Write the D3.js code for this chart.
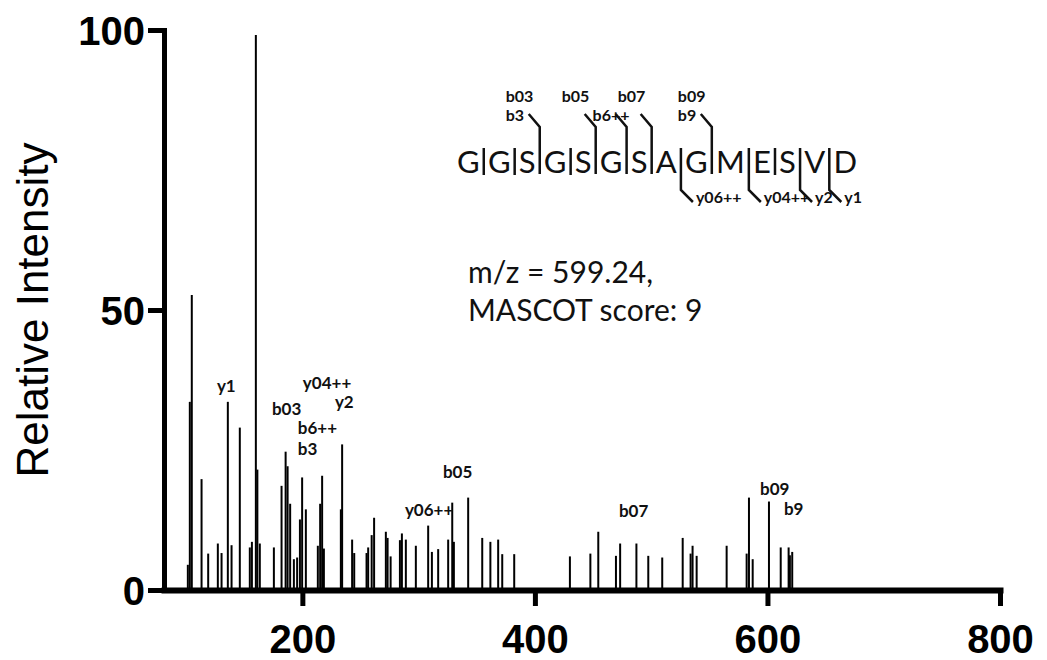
<!DOCTYPE html>
<html>
<head>
<meta charset="utf-8">
<script src="https://cdn.jsdelivr.net/npm/d3@7"></script>
<style>
  body { margin: 0; background: #fff; }
</style>
</head>
<body>
<div class="chart"></div>
<script>
// peak list (m/z, relative intensity)
var mz = [101.5,103.2,104.9,113.3,119.0,127.3,130.5,135.9,139.1,146.2,154.8,156.6,160.0,161.3,163.4,
  175.5,182.1,185.6,187.3,189.5,192.7,195.5,197.9,199.8,203.0,213.3,215.3,217.0,218.5,233.1,234.2,
  242.8,244.6,255.2,256.6,259.6,261.7,271.8,273.3,275.9,283.9,285.6,289.0,297.6,308.2,311.4,316.8,
  325.4,328.9,330.3,342.6,354.7,361.7,368.4,371.9,382.2,430.1,447.7,454.5,469.7,473.3,487.3,497.5,
  509.5,527.1,533.9,535.6,539.1,564.9,582.1,584.1,587.3,601.3,611.4,618.2,619.3,621.3];
var intensity = [4.5,33.6,52.7,19.8,6.5,8.3,6.6,33.6,8.0,29.0,7.6,8.6,99.1,21.5,8.3,
  7.6,18.6,24.7,22.1,15.4,5.5,5.8,12.6,20.1,14.4,7.9,15.4,20.4,7.4,14.4,26.0,
  9.0,6.6,6.6,7.6,9.8,12.9,10.4,9.3,6.0,8.9,10.1,9.0,7.9,11.5,6.8,7.3,
  9.0,15.6,8.6,16.5,9.3,8.6,9.0,6.4,6.4,6.0,6.5,10.4,6.1,8.3,8.3,6.1,
  5.8,9.3,6.5,7.9,6.1,7.9,6.5,16.5,5.5,15.8,7.6,7.6,6.2,6.8];

// fragment annotations placed in data units
var ionNames = ["y1","y04++","y2","b03","b6++","b3","b05","y06++","b07","b09","b9"];
var ionMz    = [126.5,200.4,228.0,173.8,196.1,196.1,320.9,288.2,472.3,593.6,614.2];
var ionY     = [35.4,35.9,32.5,31.25,27.9,24.1,20.0,13.2,13.0,17.0,13.4];

var xTicks = [200, 400, 600, 800];
var yTicks = [0, 50, 100];

// peptide and its cleavage sites
var residues = ["G","G","S","G","S","G","S","A","G","M","E","S","V","D"];
var cutType  = ["|","|","b","|","b","b","b","y","b","y","|","y","y"];
var cutLabels = [[],[],["b03","b3"],[],["b05"],["","b6++"],["b07"],["y06++"],["b09","b9"],["y04++"],[],["y2"],["y1"]];

var infoLines = ["m/z = 599.24,", "MASCOT score: 9"];

var width = 1047, height = 660;
var svg = d3.select(".chart").append("svg")
  .attr("width", width)
  .attr("height", height);

var x = d3.scaleLinear().domain([81, 800]).range([164, 1000]);
var y = d3.scaleLinear().domain([0, 100]).range([590, 30]);

// peaks
svg.append("g")
  .selectAll("line")
  .data(mz)
  .enter()
  .append("line")
  .attr("x1", d => x(d))
  .attr("x2", d => x(d))
  .attr("y1", y(0))
  .attr("y2", (d, i) => y(intensity[i]))
  .attr("stroke", "#000")
  .attr("stroke-width", 2);

// axes
var yAxis = svg.append("g")
  .attr("transform", `translate(${x(81)},0)`)
  .call(d3.axisLeft(y).tickValues(yTicks).tickSize(16).tickSizeOuter(0));
yAxis.select(".domain").attr("stroke-width", 5).attr("stroke-linecap", "square");
yAxis.selectAll(".tick line").attr("stroke-width", 5);
yAxis.selectAll("text")
  .attr("x", -19)
  .attr("dy", "0.36em")
  .style("font", "bold 40px 'Liberation Sans', Arial, sans-serif")
  .attr("fill", "#000");

var xAxis = svg.append("g")
  .attr("transform", `translate(0,${y(0)})`)
  .call(d3.axisBottom(x).tickValues(xTicks).tickSize(16).tickSizeOuter(0));
xAxis.select(".domain").attr("stroke-width", 6).attr("stroke-linecap", "square");
xAxis.selectAll(".tick line").attr("stroke-width", 5);
xAxis.selectAll("text")
  .attr("y", 63)
  .attr("dy", null)
  .style("font", "bold 40px 'Liberation Sans', Arial, sans-serif")
  .attr("fill", "#000");

svg.append("text")
  .attr("transform", "rotate(-90)")
  .attr("x", -y(50))
  .attr("y", 48)
  .attr("text-anchor", "middle")
  .style("font", "44px 'Liberation Sans', Arial, sans-serif")
  .text("Relative Intensity");

// ion labels on the peaks
svg.append("g")
  .selectAll("text")
  .data(ionNames)
  .enter()
  .append("text")
  .attr("x", (d, i) => x(ionMz[i]))
  .attr("y", (d, i) => y(ionY[i]))
  .style("font", "bold 17px Lato, sans-serif")
  .attr("fill", "#111")
  .text(d => d);

// precursor info
svg.append("g")
  .selectAll("text")
  .data(infoLines)
  .enter()
  .append("text")
  .attr("x", 468)
  .attr("y", (d, i) => 283 + i * 38)
  .style("font", "30px Lato, sans-serif")
  .attr("fill", "#111")
  .text(d => d);

// sequence with fragment brackets
var seqFont = "31px Lato, sans-serif";
var seqBase = 173;
var seqG = svg.append("g");
var tmp = seqG.append("text").style("font", seqFont);
var widths = residues.map(r => { tmp.text(r); return tmp.node().getComputedTextLength(); });
tmp.remove();
var seqLeft = 457, seqRight = 857;
var gap = (seqRight - seqLeft - d3.sum(widths)) / cutType.length;
var cx = seqLeft, cutX = [];
residues.forEach((r, i) => {
  seqG.append("text").attr("x", cx).attr("y", seqBase).style("font", seqFont).attr("fill", "#111").text(r);
  cx += widths[i];
  if (i < cutType.length) { cutX.push(cx + gap / 2); cx += gap; }
});

var bracket = d3.line();
cutType.forEach((t, i) => {
  var p = cutX[i], pts;
  if (t == "b") pts = [[p - 11, 114], [p, 127], [p, 174]];
  else if (t == "y") pts = [[p, 148], [p, 190], [p + 12, 202]];
  else pts = [[p, 148], [p, 175]];
  seqG.append("path")
    .attr("d", bracket(pts))
    .attr("fill", "none")
    .attr("stroke", "#111")
    .attr("stroke-width", 2.5);
  cutLabels[i].forEach((lab, j) => {
    if (!lab) return;
    seqG.append("text")
      .attr("x", t == "b" ? p - 34 : p + 15)
      .attr("y", t == "b" ? 102 + j * 19 : 203)
      .style("font", "bold 16px Lato, sans-serif")
      .attr("fill", "#111")
      .text(lab);
  });
});
</script>
</body>
</html>
